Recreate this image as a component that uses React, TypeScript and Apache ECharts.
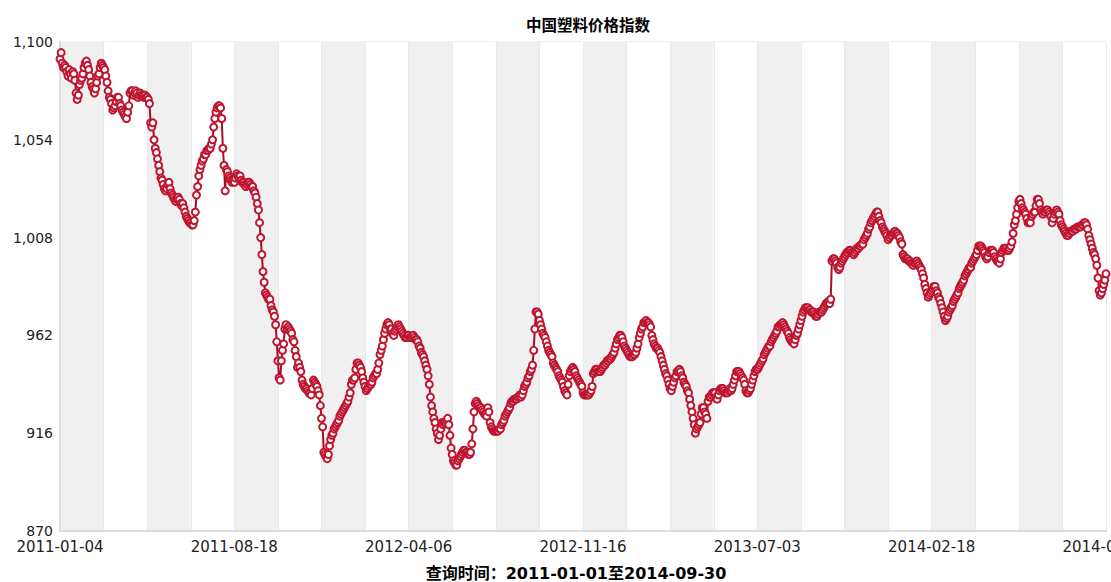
import { useEffect, useRef } from "react";
import * as echarts from "echarts";

const chartTitle = "中国塑料价格指数";
const queryText = "查询时间：2011-01-01至2014-09-30";
const tickLabels = ["2011-01-04", "2011-08-18", "2012-04-06", "2012-11-16", "2013-07-03", "2014-02-18", "2014-09-30"];
const startDate = "2011-01-04";
const holidays = [
  "2011-02-02", "2011-02-03", "2011-02-04", "2011-02-07", "2011-02-08", "2011-04-04", "2011-04-05", "2011-05-02", "2011-06-06", "2011-09-12",
  "2011-10-03", "2011-10-04", "2011-10-05", "2011-10-06", "2011-10-07",
  "2012-01-02", "2012-01-03", "2012-01-23", "2012-01-24", "2012-01-25", "2012-01-26", "2012-01-27", "2012-04-02", "2012-04-03", "2012-04-04",
  "2012-04-30", "2012-05-01", "2012-06-22", "2012-10-01", "2012-10-02", "2012-10-03", "2012-10-04", "2012-10-05",
  "2013-01-01", "2013-01-02", "2013-01-03", "2013-02-11", "2013-02-12", "2013-02-13", "2013-02-14", "2013-02-15", "2013-04-04", "2013-04-05",
  "2013-04-29", "2013-04-30", "2013-05-01", "2013-06-10", "2013-06-11", "2013-06-12", "2013-09-19", "2013-09-20",
  "2013-10-01", "2013-10-02", "2013-10-03", "2013-10-04", "2013-10-07",
  "2014-01-01", "2014-01-31", "2014-02-03", "2014-02-04", "2014-02-05", "2014-02-06", "2014-04-07", "2014-05-01", "2014-05-02", "2014-06-02", "2014-09-08",
];

const values = [
  1092,1095,1090,1088,1089,1088,1086,1084,1087,1085,1083,1086,1085,1082,1076,1073,1075,1080,1082,1083,1085,1088,1090,1091,1089,1087,1084,1081,1079,1078,1076,1078,1081,1084,1085,1088,1090,1089,
  1088,1087,1084,1081,1077,1074,1073,1071,1068,1069,1070,1072,1074,1074,1071,1070,1068,1067,1066,1065,1064,1067,1070,1076,1077,1077,1075,1076,1077,1076,1074,1075,1076,1075,1075,1074,1075,1074,
  1074,1073,1071,1062,1060,1062,1054,1050,1048,1045,1042,1039,1036,1035,1033,1031,1030,1031,1033,1034,1031,1029,1028,1027,1026,1025,1026,1027,1026,1024,1023,1024,1022,1020,1018,1017,1016,1015,
  1015,1014,1014,1016,1020,1028,1032,1037,1040,1042,1044,1045,1047,1047,1049,1049,1050,1050,1052,1054,1060,1064,1067,1069,1070,1070,1069,1064,1050,1042,1030,1040,1039,1037,1036,1035,1034,1035,
  1034,1036,1038,1037,1036,1037,1035,1034,1034,1033,1032,1033,1034,1034,1033,1032,1032,1030,1029,1027,1024,1021,1015,1008,1000,992,987,982,981,980,979,979,976,974,973,971,967,959,
  950,942,941,950,955,958,965,967,965,966,965,964,963,960,959,955,952,947,949,947,945,941,939,938,937,937,936,935,935,934,937,941,940,939,938,936,934,929,
  923,919,907,906,905,904,906,910,913,915,916,918,919,920,921,922,924,925,926,927,928,929,930,931,933,935,939,941,941,942,946,949,949,948,947,945,942,940,
  938,936,937,938,939,939,940,942,943,944,944,946,949,953,955,957,960,963,965,967,968,967,965,965,963,962,964,965,966,967,966,965,964,963,962,961,961,962,
  962,961,961,961,962,961,960,960,959,957,956,954,953,952,950,948,946,943,939,933,929,926,923,921,918,916,913,915,918,921,920,921,921,922,923,920,915,909,
  906,903,902,901,901,903,904,905,906,907,908,908,907,907,906,906,907,911,918,926,930,931,930,929,928,928,927,926,925,925,924,928,926,921,919,918,917,917,
  917,917,917,918,918,920,921,922,924,925,926,927,928,930,931,931,932,932,932,933,933,934,933,934,936,938,939,940,942,943,945,946,948,955,965,973,973,972,
  969,967,965,963,962,961,959,957,955,954,953,952,949,948,947,946,945,943,942,941,940,938,936,935,934,939,943,945,946,947,946,945,943,942,941,940,939,938,
  935,934,934,934,934,934,935,936,938,944,945,946,946,945,945,945,946,947,948,948,949,950,950,951,951,952,953,954,956,958,960,961,962,962,961,959,957,956,
  955,954,953,952,952,952,953,953,954,956,958,961,963,965,966,968,968,969,968,968,967,966,962,960,958,957,956,956,955,954,952,950,948,946,944,943,941,939,
  937,936,938,940,942,943,945,945,946,945,943,942,940,939,938,936,935,932,929,926,923,920,916,918,919,920,921,925,928,928,926,925,923,931,933,933,934,935,
  935,935,933,932,934,936,937,937,937,936,935,935,935,936,937,936,937,939,941,943,945,945,945,944,943,942,941,939,936,935,935,936,937,939,941,943,945,946,
  946,947,948,949,950,951,953,954,955,956,957,957,959,960,961,962,963,964,966,966,967,967,968,967,966,965,964,963,961,960,959,959,958,960,962,963,965,967,
  969,971,973,974,975,975,975,974,974,973,973,973,972,971,971,972,973,973,973,974,975,976,977,977,978,977,979,997,998,998,997,996,994,993,994,996,997,998,
  999,1000,1001,1001,1002,1002,1001,1001,1000,1001,1002,1003,1003,1004,1004,1005,1005,1007,1008,1009,1010,1012,1013,1015,1016,1017,1018,1019,1020,1020,1018,1016,1015,1013,1012,1011,1010,1009,
  1007,1008,1009,1009,1010,1010,1011,1010,1010,1009,1008,1006,1005,1000,999,998,998,998,997,997,996,996,995,996,996,997,996,995,994,993,991,989,986,984,982,980,981,982,
  983,984,985,985,983,982,980,979,977,975,973,971,969,970,971,973,974,975,976,978,979,980,981,982,984,985,986,987,988,990,991,992,993,994,994,996,997,998,
  999,1000,1002,1004,1004,1004,1003,1002,1001,999,998,999,1001,1002,1002,1002,1001,999,998,997,997,996,998,1001,1002,1003,1003,1003,1002,1002,1003,1004,1006,1010,1014,1016,1019,1022,
  1025,1026,1024,1022,1021,1020,1019,1017,1015,1015,1015,1018,1019,1020,1020,1023,1026,1026,1024,1021,1020,1019,1020,1020,1021,1021,1020,1019,1018,1015,1017,1019,1020,1021,1020,1019,1016,1014,
  1013,1012,1011,1010,1009,1009,1010,1011,1011,1011,1012,1012,1012,1013,1013,1013,1013,1014,1014,1015,1015,1014,1012,1009,1007,1005,1003,1001,1000,998,995,989,983,981,982,984,986,988,991,
];

const LABEL_STEP = 152;
const BAND_STEP = 38;

function tradingDays(start: string, count: number): string[] {
  const skip = new Set(holidays);
  const out: string[] = [];
  const d = new Date(start + "T00:00:00Z");
  while (out.length < count) {
    const wd = d.getUTCDay();
    const s = d.toISOString().slice(0, 10);
    if (wd !== 0 && wd !== 6 && !skip.has(s)) out.push(s);
    d.setUTCDate(d.getUTCDate() + 1);
  }
  return out;
}

const dates = tradingDays(startDate, values.length);

export default function App() {
  const ref = useRef<HTMLDivElement>(null);
  useEffect(() => {
    if (!ref.current) return;
    const chart = echarts.init(ref.current, undefined, { renderer: "svg" });
    chart.setOption({
      animation: false,
      backgroundColor: "#ffffff",
      title: {
        text: chartTitle,
        left: 583,
        top: 11,
        textAlign: "center",
        textStyle: { fontSize: 15.5, fontWeight: "bold", color: "#000", fontFamily: '"Noto Sans CJK SC", sans-serif' },
      },
      grid: {
        left: 60,
        right: 5,
        top: 42,
        bottom: 51,
        containLabel: false,
        outerBoundsMode: "none",
        show: true,
        borderColor: "#e2e2e2",
        borderWidth: 1,
      },
      xAxis: {
        type: "category",
        data: dates,
        boundaryGap: false,
        axisLine: { lineStyle: { color: "#dddddd", width: 2 } },
        axisTick: { show: false },
        axisLabel: {
          interval: LABEL_STEP - 1,
          formatter: (_v: string, i: number) => tickLabels[Math.round(i / LABEL_STEP)] ?? "",
          color: "#222",
          fontSize: 15,
          fontFamily: '"DejaVu Sans", sans-serif',
          margin: 8,
          hideOverlap: false,
        },
        splitArea: { show: true, interval: BAND_STEP - 1, areaStyle: { color: ["#f0f0f0", "#ffffff"] } },
        splitLine: { show: true, interval: BAND_STEP - 1, lineStyle: { color: "#e9e9e9", width: 1 } },
      },
      yAxis: {
        type: "value",
        min: 870,
        max: 1100,
        interval: 46,
        axisLine: { show: true, lineStyle: { color: "#dddddd", width: 2 } },
        axisTick: { show: false },
        axisLabel: {
          formatter: (v: number) => v.toLocaleString("en-US"),
          color: "#222",
          fontSize: 14,
          fontFamily: '"DejaVu Sans", sans-serif',
          margin: 7,
        },
        splitLine: { show: true, lineStyle: { color: "#e8e8e8", width: 1 } },
      },
      series: [
        {
          type: "line",
          data: values,
          symbol: "emptyCircle",
          symbolSize: 7,
          showSymbol: true,
          showAllSymbol: true,
          lineStyle: { color: "#a60f28", width: 2 },
          itemStyle: { color: "#bf1530", borderWidth: 1.8 },
        },
      ],
      graphic: [
        {
          type: "text",
          x: 576,
          y: 573,
          style: {
            text: queryText,
            fill: "#000",
            fontSize: 16,
            fontWeight: "bold",
            fontFamily: '"DejaVu Sans", "Noto Sans CJK SC", sans-serif',
            align: "center",
            verticalAlign: "middle",
          },
        },
      ],
    });
    return () => chart.dispose();
  }, []);
  return <div ref={ref} style={{ position: "fixed", left: 0, top: 0, width: 1111, height: 582 }} />;
}
